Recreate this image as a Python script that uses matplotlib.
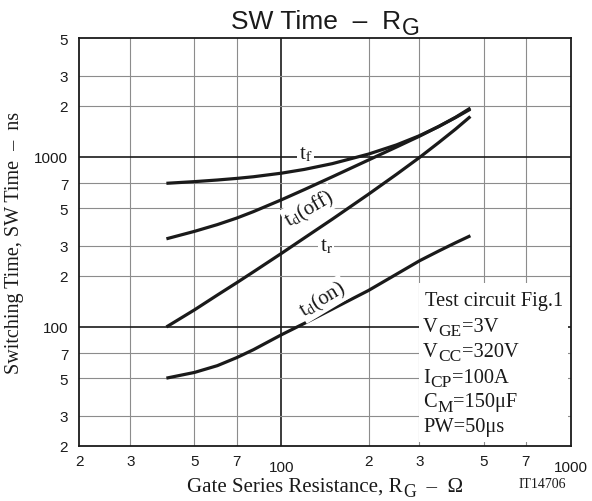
import matplotlib
matplotlib.use('Agg')
import matplotlib.pyplot as plt
from matplotlib.patches import Rectangle
from matplotlib.ticker import NullLocator
from matplotlib.transforms import ScaledTranslation

# Values (R_G in ohm, times in ns)
rg = [40, 50, 60, 70, 80, 100, 120, 150, 200, 250, 300, 350, 400, 450]
t_f = [700, 716, 732, 748, 765, 803, 845, 914, 1040, 1178, 1334, 1512, 1712, 1940]
t_doff = [330, 365, 400, 437, 477, 560, 643, 765, 960, 1145, 1325, 1513, 1707, 1910]
t_r = [100, 126, 154, 182, 211, 271, 334, 431, 604, 791, 993, 1217, 1459, 1730]
t_don = [50, 54, 59.2, 66, 73.5, 90, 105, 127.5, 164, 204.5, 245, 280, 313, 344]

x_ticks = [20, 30, 50, 70, 100, 200, 300, 500, 700, 1000]
x_labels = ['2', '3', '5', '7', '100', '2', '3', '5', '7', '1000']
y_ticks = [20, 30, 50, 70, 100, 200, 300, 500, 700, 1000, 2000, 3000, 5000]
y_labels = ['2', '3', '5', '7', '100', '2', '3', '5', '7', '1000', '2', '3', '5']

# (text, is_subscript) pieces
title_parts = [('SW Time  –  R', False), ('G', True)]
xlabel_parts = [('Gate Series Resistance, R', False), ('G', True), ('  –  Ω', False)]
cond_parts = [
    [('Test circuit Fig.1', False)],
    [('V', False), ('GE', True), ('=3V', False)],
    [('V', False), ('CC', True), ('=320V', False)],
    [('I', False), ('CP', True), ('=100A', False)],
    [('C', False), ('M', True), ('=150μF', False)],
    [('PW=50μs', False)],
]

SANS = 'Liberation Sans'
SERIF = 'Liberation Serif'
INK = '#1a1a1a'

fig = plt.figure(figsize=(5.92, 5.02), dpi=100)
ax = fig.add_axes([0.134, 0.110, 0.830, 0.812])
ax.set_xscale('log')
ax.set_yscale('log')
ax.set_xlim(20, 1000)
ax.set_ylim(20, 5000)


def rich(x, y, parts, size, family, sub_scale=0.85, drop=2.5):
    first = ax.text(x, y, parts[0][0], transform=fig.transFigure, fontsize=size,
                    family=family, color=INK, ha='left', va='baseline', zorder=4)
    pieces = [first]
    prev = first
    for s, is_sub in parts[1:]:
        prev = ax.annotate(s, xy=(1, 0), xycoords=(prev, first),
                           xytext=(0.5 if is_sub else 0, -drop if is_sub else 0),
                           textcoords='offset points',
                           fontsize=size * sub_scale if is_sub else size,
                           family=family, color=INK, ha='left', va='bottom', zorder=4)
        pieces.append(prev)
    return pieces


def center_on(pieces, xc_px):
    fig.canvas.draw()
    r = fig.canvas.get_renderer()
    boxes = [p.get_window_extent(r) for p in pieces]
    x0 = min(b.x0 for b in boxes)
    x1 = max(b.x1 for b in boxes)
    x, y = pieces[0].get_position()
    pieces[0].set_position((x + (xc_px - (x0 + x1) / 2) / fig.bbox.width, y))


# grid only at the labelled values, decades drawn darker
for v in x_ticks[1:-1]:
    major = v == 100
    ax.axvline(v, color=INK if major else '#8c8c8c', lw=1.2 if major else 0.8, zorder=1)
for v in y_ticks[1:-1]:
    major = v in (100, 1000)
    ax.axhline(v, color=INK if major else '#8c8c8c', lw=1.2 if major else 0.8, zorder=1)

# white panel behind the test conditions
ax.add_patch(Rectangle((0.691, 0.009), 0.3035, 0.39, transform=ax.transAxes,
                       facecolor='white', edgecolor='none', zorder=2))

for series in (t_f, t_doff, t_r, t_don):
    ax.plot(rg, series, color=INK, lw=2.3, solid_capstyle='butt', zorder=3)

lab = dict(family=SERIF, fontsize=15, color=INK, ha='center', va='center',
           math_fontfamily='stix', zorder=4,
           bbox=dict(facecolor='white', edgecolor='none', pad=1.0))
ax.text(121, 1040, r't$_{\mathrm{f}}$', **lab)
ax.text(125, 500, r't$_{\mathrm{d}}$(off)', rotation=30, **lab)
ax.text(143, 300, r't$_{\mathrm{r}}$', **lab)
ax.text(139, 146, r't$_{\mathrm{d}}$(on)', rotation=31, **lab)

base_px = [306, 331.7, 356.7, 382.7, 407.5, 432.5]
for i, (parts, by) in enumerate(zip(cond_parts, base_px)):
    rich((425 if i == 0 else 423) / 592, 1 - by / 502, parts, 14.7, SERIF, drop=2.3)

ax.set_xticks(x_ticks, x_labels)
ax.set_yticks(y_ticks, y_labels)
ax.xaxis.set_minor_locator(NullLocator())
ax.yaxis.set_minor_locator(NullLocator())
ax.tick_params(length=0, labelsize=11, colors=INK)
ax.tick_params(axis='x', pad=6)
ax.tick_params(axis='y', pad=8)
for t in ax.get_xticklabels() + ax.get_yticklabels():
    t.set_family(SANS)
for t in ax.get_xticklabels():
    if t.get_text() in ('100', '1000'):
        t.set_transform(t.get_transform() + ScaledTranslation(0, -4 / 72, fig.dpi_scale_trans))

for s in ax.spines.values():
    s.set_linewidth(1.3)
    s.set_color(INK)
    s.set_zorder(5)

title = rich(0.4, 1 - 29 / 502, title_parts, 19, SANS, sub_scale=0.87, drop=4)
xlab = rich(0.3, 1 - 492 / 502, xlabel_parts, 15, SERIF, sub_scale=0.85, drop=2.8)

fig.text(0.0253, 0.517, 'Switching Time, SW Time  –  ns', family=SERIF, fontsize=14.5,
         color=INK, ha='center', va='center', rotation=90)
fig.text(0.9155, 0.034, 'IT14706', family=SERIF, fontsize=10, color=INK,
         ha='center', va='center')

center_on(title, 325)
center_on(xlab, 324.7)

fig.savefig('out.png', dpi=100)
